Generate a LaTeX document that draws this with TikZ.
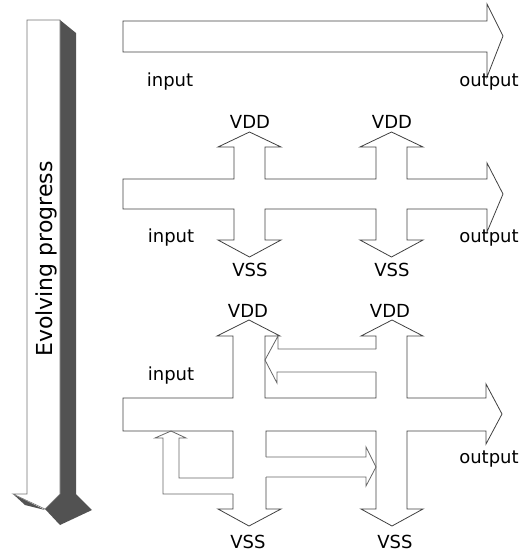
\documentclass[tikz,border=0pt]{standalone}
\usepackage{fontspec}
\setmainfont{DejaVu Sans}
\begin{document}
\begin{tikzpicture}[x=1pt,y=-1pt,
    outline/.style={draw=black!75,line width=0.8pt},
    loopline/.style={draw=black!60,line width=0.8pt},
    lbl/.style={inner sep=0pt,anchor=base,font=\fontsize{18}{20}\selectfont},
    darkside/.style={fill=black!68}]
        \useasboundingbox (0,0) rectangle (525,552);
        %Evolving progress arrow
        \fill[darkside] (60,20) -- (76,33) -- (76,494) -- (92,510) -- (60,525) -- (45,509) -- (60,494) -- cycle;
        \fill[darkside] (13,494) -- (25,505) -- (45,510) -- cycle;
        \filldraw[fill=white,draw=black!55,line width=0.6pt] (27,494) -- (27,20) -- (60,20) -- (60,494) -- (45,509) -- (13,494) -- cycle;
        \node[rotate=90,inner sep=0pt,anchor=base,font=\fontsize{22}{24}\selectfont] (evolve) at (52,259) {Evolving progress};
        %Row 1: plain arrow
        \draw[outline] (123,21) -- (487,21) -- (487,4) -- (503,36) -- (487,77) -- (487,52) -- (123,52) -- cycle;
        %Row 2: arrow with supply taps
        \draw[outline] (123,179) -- (234,179) -- (234,147) -- (218,147) -- (249.5,132) -- (281,147) -- (265,147) -- (265,179)
          -- (376,179) -- (376,147) -- (360,147) -- (391.5,132) -- (423,147) -- (407,147) -- (407,179)
          -- (487,179) -- (487,163) -- (503,194) -- (487,232) -- (487,209)
          -- (407,209) -- (407,240) -- (423,240) -- (391.5,257) -- (360,240) -- (376,240) -- (376,209)
          -- (265,209) -- (265,240) -- (281,240) -- (249.5,257) -- (218,240) -- (234,240) -- (234,209)
          -- (123,209) -- cycle;
        %Row 3: arrow with taps and loops
        \draw[outline] (233,478) -- (233,431) -- (123,431) -- (123,398) -- (233,398) -- (233,336) -- (217,336) -- (249,320) -- (280,336)
          -- (265,336) -- (265,398) -- (376,398) -- (376,372);
        \draw[outline] (376,349) -- (376,336) -- (361,336) -- (392,320) -- (423,336) -- (407,336) -- (407,398)
          -- (486,398) -- (486,384) -- (502,414) -- (486,444) -- (486,431)
          -- (407,431) -- (407,509) -- (423,509) -- (392,526) -- (361,509) -- (376,509) -- (376,431) -- (266,431) -- (266,457);
        \draw[outline] (266,477) -- (266,509) -- (281,509) -- (249,526) -- (218,509) -- (233,509) -- (233,494);
        %Loops
        \draw[loopline] (376,349) -- (278,349) -- (278,336) -- (265,360) -- (277,383) -- (277,372) -- (376,372);
        \draw[loopline] (266,457) -- (366,457) -- (366,447) -- (376,467) -- (366,486) -- (366,477) -- (266,477);
        \draw[loopline] (233,478) -- (179,478) -- (179,438) -- (186,438) -- (171,431) -- (155,438) -- (163,438) -- (163,494) -- (233,494);
        %Draw labels
        \node[lbl] (in1) at (170,86) {input};
        \node[lbl] (out1) at (489,86) {output};
        \node[lbl] (in2) at (171,242) {input};
        \node[lbl] (out2) at (489,242) {output};
        \node[lbl] (in3) at (171,380) {input};
        \node[lbl] (out3) at (489,463) {output};
        \node[lbl] (vdda) at (250,128) {VDD};
        \node[lbl] (vddb) at (392,128) {VDD};
        \node[lbl] (vssa) at (250,276) {VSS};
        \node[lbl] (vssb) at (392,276) {VSS};
        \node[lbl] (vddc) at (248,317) {VDD};
        \node[lbl] (vddd) at (390,317) {VDD};
        \node[lbl] (vssc) at (248,548) {VSS};
        \node[lbl] (vssd) at (395,548) {VSS};
\end{tikzpicture}
\end{document}
